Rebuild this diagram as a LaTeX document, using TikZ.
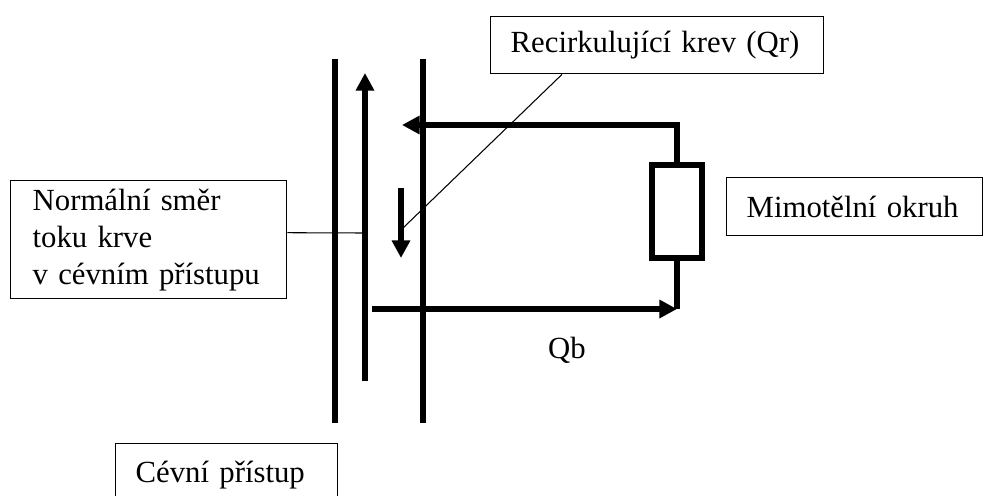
\documentclass[tikz,border=0pt]{standalone}
\usepackage{fontspec}
\setmainfont{Liberation Serif}
\usetikzlibrary{arrows.meta}
\begin{document}
\begin{tikzpicture}[x=0.02cm,y=-0.02cm,
  pipe/.style={line width=3pt},
  flow/.style={line width=3pt,-{Triangle[length=10pt,width=10pt]}},
  labelbox/.style={draw,line width=0.8pt,anchor=north west,inner ysep=0pt,
    font=\fontsize{17.5}{21}\selectfont},
  lead/.style={line width=0.6pt}]
  \clip (0,0) rectangle (992,495);
  % Walls of the vascular access
  \draw[pipe] (335,59) -- (335,423);
  \draw[pipe] (423,59) -- (423,423);
  % Normal blood flow and recirculation
  \draw[flow] (365,381) -- (365,73);
  \draw[flow] (401,188) -- (401,258);
  % Extracorporeal circuit
  \node[draw,line width=3pt,minimum width=1cm,minimum height=1.86cm] (res) at (677,211.5) {};
  \coordinate (topTip) at (402,125);
  \draw[flow] (res.north) |- (topTip);
  \coordinate (botCorner) at (677,309);
  \coordinate (botStart) at (372,309);
  \draw[pipe] (res.south) -- (botCorner);
  \draw[flow] (botStart) -- (botCorner);
  % Labels
  \node[labelbox,inner xsep=0.4cm,text width=5.86cm,minimum height=1.14cm,align=left] (rec) at (490,16) {Recirkulující krev (Qr)};
  \node[labelbox,inner xsep=0.44cm,text width=4.64cm,minimum height=2.36cm,align=left] (norm) at (10,180) {Normální směr\\toku krve\\v cévním přístupu};
  \node[labelbox,inner xsep=0.4cm,text width=4.32cm,minimum height=1.16cm,align=left] (mim) at (726,177) {Mimotělní okruh};
  \node[labelbox,inner xsep=0.4cm,text width=3.64cm,minimum height=1.24cm,align=left] (cev) at (115,443) {Cévní přístup};
  \node[font=\fontsize{17.5}{21}\selectfont] (qb) at (567,350) {Qb};
  % Leader lines
  \coordinate (recEnd) at (403,228);
  \draw[lead] ([xshift=1.44cm]rec.south west) -- (recEnd);
  \coordinate (normEnd) at (364,233);
  \draw[lead] ([yshift=0.14cm]norm.east) -- (normEnd);
\end{tikzpicture}
\end{document}
